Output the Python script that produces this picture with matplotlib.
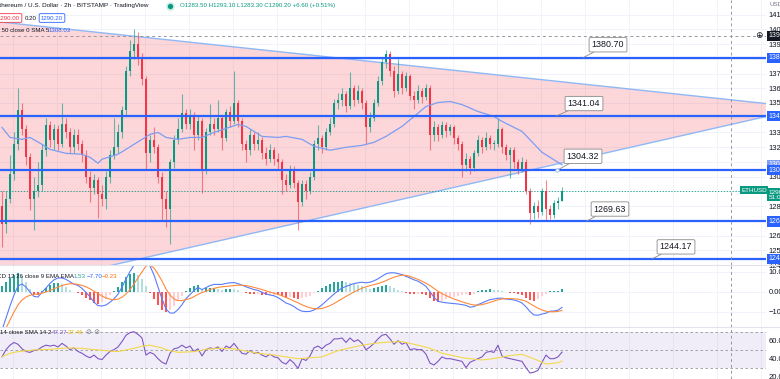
import numpy as np
import matplotlib.pyplot as plt
from matplotlib.patches import Polygon
from matplotlib.lines import Line2D

plt.rcParams['font.family'] = ['Liberation Sans', 'DejaVu Sans']
LEG_SIZE = 4.4

# ===============================
# DATA (ETHUSD 2h)
# ===============================
first_open = 1280.0
close = [1268, 1285, 1302, 1322, 1345, 1332, 1313, 1285, 1290, 1294,
         1318, 1335, 1325, 1332, 1322, 1336, 1330, 1320, 1328, 1322,
         1315, 1300, 1292, 1298, 1288, 1285, 1300, 1315, 1320, 1330,
         1345, 1372, 1385, 1390, 1380, 1366, 1316, 1325, 1320, 1300,
         1285, 1278, 1310, 1325, 1332, 1343, 1336, 1342, 1328, 1338,
         1305, 1330, 1336, 1332, 1340, 1326, 1344, 1338, 1350, 1338,
         1322, 1318, 1328, 1322, 1325, 1316, 1312, 1318, 1312, 1310,
         1298, 1294, 1305, 1296, 1283, 1295, 1290, 1300, 1322, 1326,
         1320, 1330, 1336, 1350, 1352, 1356, 1348, 1360, 1352, 1358,
         1350, 1334, 1340, 1350, 1365, 1378, 1383, 1372, 1358, 1370,
         1360, 1368, 1355, 1352, 1358, 1354, 1360, 1328, 1334, 1328,
         1335, 1331, 1334, 1326, 1322, 1308, 1312, 1306, 1316, 1325,
         1320, 1326, 1322, 1322, 1332, 1320, 1315, 1318, 1310, 1305,
         1310, 1290, 1275, 1280, 1276, 1290, 1278, 1274, 1282, 1283.5, 1290.2]
high = [1290, 1290, 1315, 1330, 1360, 1350, 1335, 1316, 1300, 1310,
        1322, 1340, 1338, 1336, 1335, 1350, 1340, 1333, 1332, 1332,
        1325, 1318, 1304, 1302, 1300, 1294, 1304, 1318, 1340, 1336,
        1348, 1375, 1393, 1400, 1398, 1384, 1368, 1328, 1334, 1322,
        1303, 1290, 1312, 1328, 1340, 1356, 1346, 1346, 1344, 1342,
        1340, 1333, 1349, 1340, 1352, 1342, 1346, 1348, 1372, 1352,
        1340, 1325, 1332, 1330, 1330, 1327, 1320, 1322, 1320, 1316,
        1312, 1302, 1308, 1307, 1298, 1298, 1298, 1303, 1325, 1335,
        1328, 1333, 1340, 1353, 1357, 1360, 1358, 1371, 1362, 1362,
        1360, 1352, 1344, 1353, 1368, 1381, 1386, 1385, 1375, 1380,
        1372, 1371, 1370, 1358, 1362, 1360, 1363, 1362, 1338, 1336,
        1338, 1337, 1336, 1335, 1328, 1324, 1316, 1314, 1318, 1328,
        1327, 1330, 1328, 1325, 1340, 1334, 1322, 1320, 1320, 1312,
        1313, 1312, 1292, 1283, 1284, 1292, 1298, 1281, 1284, 1286, 1293.1]
low = [1252, 1262, 1282, 1298, 1318, 1328, 1308, 1277, 1264, 1286,
       1290, 1314, 1320, 1318, 1318, 1320, 1326, 1316, 1316, 1318,
       1310, 1296, 1283, 1288, 1272, 1280, 1278, 1296, 1312, 1316,
       1326, 1342, 1368, 1380, 1376, 1362, 1305, 1310, 1316, 1296,
       1270, 1266, 1254, 1306, 1322, 1330, 1332, 1332, 1318, 1325,
       1289, 1302, 1328, 1328, 1330, 1318, 1324, 1334, 1336, 1334,
       1318, 1310, 1315, 1318, 1318, 1312, 1308, 1310, 1308, 1305,
       1288, 1290, 1292, 1292, 1264, 1280, 1285, 1288, 1298, 1318,
       1316, 1318, 1328, 1334, 1346, 1348, 1344, 1346, 1348, 1350,
       1346, 1322, 1330, 1338, 1348, 1362, 1374, 1368, 1354, 1356,
       1356, 1358, 1352, 1346, 1350, 1350, 1352, 1318, 1324, 1324,
       1326, 1327, 1328, 1322, 1318, 1300, 1304, 1302, 1304, 1314,
       1316, 1318, 1319, 1318, 1320, 1316, 1311, 1299, 1306, 1302,
       1303, 1288, 1268, 1271, 1272, 1274, 1270, 1271, 1272, 1278, 1283.3]

# MA 50 read at a few bars
sma50_bar = [0, 2, 5, 7, 10, 12, 16, 20, 22, 24, 25, 29, 31, 35, 37, 39, 41, 44, 47, 50,
             53, 56, 59, 61, 65, 69, 71, 75, 78, 82, 86, 90, 93, 96, 100, 103, 106, 109, 112, 115,
             119, 123, 125, 130, 135, 140]
sma50 = [1333.4, 1326.6, 1325.3, 1326.6, 1321.9, 1318.5, 1315.8, 1315.2, 1313.1, 1309.1,
         1311.8, 1315.2, 1318.5, 1325.3, 1328.7, 1330.0, 1326.6, 1325.3, 1326.6, 1326.6,
         1330.0, 1332.7, 1335.4, 1334.1, 1327.3, 1326.6, 1327.3, 1325.3, 1320.6, 1317.9,
         1319.9, 1321.2, 1323.3, 1327.3, 1334.1, 1340.8, 1347.6, 1350.3, 1351.0, 1348.9,
         1344.2, 1340.8, 1337.5, 1330.7, 1316.5, 1308.03]

levels = [1380.70, 1341.04, 1304.32, 1269.63, 1244.17]
level_labels = ["1380.70", "1341.04", "1304.32", "1269.63", "1244.17"]

# triangle drawing (bar, price)
tri_bar = [-0.5, 191]
tri_upper = [1405.0, 1349.6]
tri_lower = [1222.6, 1340.8]

macd_signal = [-22, -18, -14, -10, -6.5, -4, -2.5, -1.6, -1.2, -1.0,
               -0.6, 0, 0.8, 1.6, 2.5, 3.2, 3.8, 4.1, 4.1, 3.8,
               3.3, 2.6, 1.6, 0.4, -0.8, -2.0, -3.0, -3.6, -3.9, -3.6,
               -2.6, -1.0, 1.2, 4.0, 7.2, 10, 13, 13.5, 12, 9,
               5.5, 1.5, -1.5, -3.5, -4.3, -4.3, -3.8, -3.3, -2.3, -1.2,
               -0.3, 0.4, 1.2, 1.8, 2.3, 2.6, 2.8, 3.0, 3.2, 3.4,
               3.4, 3.2, 2.8, 2.3, 1.8, 1.2, 0.6, 0.0, -0.6, -1.2,
               -1.9, -2.7, -3.6, -4.5, -5.4, -6.4, -7.2, -7.9, -8.3, -8.4,
               -8.2, -7.6, -6.8, -5.8, -4.6, -3.4, -2.2, -1.1, 0.0, 1.0,
               1.9, 2.6, 3.2, 3.7, 4.2, 4.9, 5.7, 6.6, 7.4, 8.0,
               8.4, 8.3, 7.8, 7.1, 6.3, 5.4, 4.4, 3.2, 1.8, 0.4,
               -0.8, -1.8, -2.7, -3.5, -4.2, -4.9, -5.5, -6.1, -6.5, -6.6,
               -6.3, -5.8, -5.2, -4.5, -3.9, -3.5, -3.3, -3.3, -3.4, -3.6,
               -4.0, -4.6, -5.8, -7.0, -8.1, -9.0, -9.6, -9.9, -9.9, -9.7, -9.23]
macd_hist = [3, 5, 7, 8.5, 9.5, 8, 5, 1.5, -1, -1.5,
             0.5, 2, 3.5, 4.5, 4.5, 3.8, 2.5, 1, -0.2, -0.5,
             -1.5, -2.8, -4, -5.5, -6, -5, -3.5, -1.5, 0.5, 2.5,
             5, 7.5, 9, 9.5, 8.5, 6.5, 3, -0.5, -3.5, -6.5,
             -9, -10, -9, -7, -4.5, -2, 0.5, 2, 3, 3.5,
             1.5, 1.8, 2, 2, 1.5, 1.2, 1.5, 1.6, 1.5, 0.8,
             0, -0.6, -0.9, -1.1, -1, -1.3, -1.6, -1.5, -1.3, -1.6,
             -2.2, -2.8, -2.6, -2.8, -3.3, -3.2, -2.6, -1.8, -0.7, 0.5,
             1.8, 3, 4, 4.8, 5.2, 5.4, 5, 4.6, 4.2, 3.6,
             3, 2, 1.7, 1.9, 2.4, 3, 3.4, 3, 2.2, 1.2,
             0.3, -0.5, -0.8, -1, -0.9, -1.2, -1.6, -3, -4.5, -5,
             -4.3, -3.6, -2.9, -2.3, -1.8, -1.4, -1.2, -1.5, -0.8, 0.3,
             0.8, 1.2, 1.4, 1.0, 0.8, 0.4, -0.2, -0.4, -0.6, -1.0,
             -1.5, -2.8, -4, -4.5, -3.5, -2, -1, 0.3, 0.4, 0.6, 1.53]

rsi = [42, 50, 55, 58, 56, 51, 48, 47, 49, 50,
       53, 55, 54, 55, 53, 57, 54, 50, 52, 48,
       46, 43, 41, 44, 40, 39, 44, 48, 50, 53,
       59, 66, 69, 70, 67, 63, 44, 47, 45, 40,
       36, 34, 46, 51, 52, 55, 52, 54, 48, 51,
       43, 50, 52, 51, 53, 48, 54, 52, 57, 51,
       46, 45, 49, 46, 47, 44, 42, 45, 42, 41,
       36, 34, 39, 35, 29, 40, 38, 43, 52, 54,
       51, 55, 57, 62, 62, 63, 58, 63, 59, 61,
       57, 50, 53, 57, 62, 66, 67, 62, 56, 60,
       56, 58, 50, 51, 50, 50, 45, 35, 33, 37,
       42, 40, 40, 39, 38, 37, 30, 36, 38, 40,
       42, 47, 48, 47, 55, 43, 41, 40, 39, 38,
       37, 30, 24, 25, 27, 36, 44, 40, 40, 42, 47.27]
rsi_ma_bar = [0, 2, 4, 8, 12, 16, 20, 24, 29, 33, 35, 37, 40, 41, 44, 48, 51, 54, 58, 61,
              64, 68, 71, 74, 80, 84, 90, 94, 97, 100, 102, 104, 107, 110, 114, 116, 120, 122, 124, 127,
              130, 132, 134, 136, 139, 140]
rsi_ma = [42.2, 46.0, 47.8, 49.7, 50.4, 51.9, 51.5, 49.7, 47.8, 51.5,
          54.0, 55.0, 52.0, 50.0, 47.0, 47.8, 50.5, 51.5, 51.0, 48.5,
          46.0, 44.1, 42.0, 40.0, 42.0, 49.0, 55.0, 57.5, 58.5, 58.9,
          57.0, 55.0, 51.5, 46.0, 42.2, 40.4, 38.6, 39.5, 41.0, 43.5,
          44.8, 41.5, 38.0, 34.0, 35.5, 37.46]

price_ticks = [1240, 1250, 1260, 1280, 1300, 1320, 1330, 1350, 1360, 1370, 1390, 1400, 1410]

# ===============================
# FIGURE / PANES
# ===============================
W, H = 780, 379
fig = plt.figure(figsize=(W / 100, H / 100), dpi=100)


def fx(px):
    return px / W


def fy(py):
    return 1 - py / H


def legend(px, py, s, color='#131722', size=LEG_SIZE, **kw):
    fig.text(fx(px), fy(py), s, fontsize=size, color=color, va='center', **kw)


AX_R = 766 / W
ax = fig.add_axes([0, fy(265), AX_R, 265 / H])
ax_m = fig.add_axes([0, fy(327), AX_R, 62 / H])
ax_r = fig.add_axes([0, 0, AX_R, 52 / H])

n = len(close)
bars = np.arange(n)
c = np.array(close, float)
o = np.r_[first_open, c[:-1]]
up = c >= o
CROSS_X = 182.25

for a in (ax, ax_m, ax_r):
    a.set_xlim(-0.5, 191)
    a.set_xticks([])
    for s in a.spines.values():
        s.set_visible(False)
    a.yaxis.tick_right()
    a.tick_params(axis='y', length=0, pad=2, labelsize=5.5, colors='#131722')
    for gx in np.arange(2.75, 191, 11):
        a.axvline(gx, color='#f0f3fa', lw=0.7, zorder=0)
    a.axvline(CROSS_X, color='#9598a1', lw=0.7, ls=(0, (3, 3)), zorder=7)

# ---- main price pane ----
ax.set_ylim(1240.8, 1419.9)
ax.set_yticks(price_ticks)
for t in range(1240, 1420, 10):
    ax.axhline(t, color='#f0f3fa', lw=0.7, zorder=0)

ax.add_patch(Polygon([[tri_bar[0], tri_upper[0]], [tri_bar[1], tri_upper[1]],
                      [tri_bar[1], tri_lower[1]], [tri_bar[0], tri_lower[0]]],
                     closed=True, fc='#f23645', alpha=0.2, ec='none', zorder=1))
ax.plot(tri_bar, tri_upper, color='#8fb8f5', lw=1, zorder=2)
ax.plot(tri_bar, tri_lower, color='#8fb8f5', lw=1, zorder=2)

col = np.where(up, '#089981', '#f23645')
ax.vlines(bars, low, high, colors=col, lw=0.8, alpha=0.6, zorder=3)
ax.bar(bars, np.maximum(np.abs(c - o), 0.5), bottom=np.minimum(o, c), width=0.6,
       color=col, lw=0, zorder=3)

ax.plot(sma50_bar, sma50, color='#7c9df2', lw=0.9, zorder=3.5)

ax.axhline(1290.2, color='#089981', lw=0.6, ls=(0, (1.5, 2)), zorder=2.5)
ax.axhline(1395.6, color='#9598a1', lw=0.7, ls=(0, (3, 3)), zorder=7)

for lv in levels:
    ax.axhline(lv, color='#2962ff', lw=1.6, zorder=4)

# callouts (box position, pointer bar)
callout_box = [(151.5, 1389.5), (145.5, 1349.6), (145.25, 1313.8), (152.0, 1278.0), (168.5, 1252.3)]
callout_tip = [145.25, 138.5, 138.75, 146.0, 162.5]
for lab, lv, (bx, by), tx in zip(level_labels, levels, callout_box, callout_tip):
    ax.annotate(lab, xy=(tx, lv), xytext=(bx, by), fontsize=6.4, color='#131722',
                ha='center', va='center', zorder=8,
                bbox=dict(boxstyle='round,pad=0.3,rounding_size=0.15', fc='white', ec='#8a8a8a', lw=0.6),
                arrowprops=dict(arrowstyle='-', color='#8a8a8a', lw=0.6, shrinkA=0, shrinkB=0))
ax.plot(138.75, 1304.32, 'o', ms=2.5, mfc='white', mec='#8fb8f5', mew=0.6, zorder=8)

# price-axis boxes
ytr = ax.get_yaxis_transform()
ax.text(1.003, 1308.03, '1308.03', transform=ytr, fontsize=5, color='white', va='center',
        ha='left', clip_on=False, bbox=dict(boxstyle='square,pad=0.25', fc='#7c9df2', ec='none'))
for lv, lab in zip(levels, level_labels):
    ax.text(1.003, lv, lab, transform=ytr, fontsize=5, color='white', va='center', ha='left',
            clip_on=False, bbox=dict(boxstyle='square,pad=0.25', fc='#2962ff', ec='none'))
ax.text(1.003, 1395.6, '1395.60', transform=ytr, fontsize=5, color='white', va='center',
        ha='left', clip_on=False, bbox=dict(boxstyle='square,pad=0.25', fc='#131722', ec='none'))
ax.text(1.003, 1287.8, '1290.20\n51:06', transform=ytr, fontsize=4.6, color='white', va='center',
        ha='left', clip_on=False, linespacing=1.0,
        bbox=dict(boxstyle='square,pad=0.2', fc='#089981', ec='none'))
fig.text(fx(754), fy(190), 'ETHUSD', fontsize=4.5, color='white', ha='center', va='center',
         bbox=dict(boxstyle='square,pad=0.25', fc='#089981', ec='none'))
fig.text(fx(759), fy(35), '⊕', fontsize=6.5, color='#131722', ha='center', va='center',
         family='DejaVu Sans')
fig.text(fx(769), fy(4), 'USD', fontsize=4.5, color='#787b86', ha='left', va='center')

# ---- MACD pane ----
sig = np.array(macd_signal, float)
hist = np.array(macd_hist, float)
macd = sig + hist
prev = np.r_[hist[0], hist[:-1]]
hcol = np.where(hist >= 0, np.where(hist >= prev, '#26a69a', '#b2dfdb'),
                np.where(hist < prev, '#ff5252', '#ffcdd2'))
ax_m.set_ylim(-17.5, 13.5)
for t in (-10, 0, 10):
    ax_m.axhline(t, color='#f0f3fa', lw=0.7, zorder=0)
ax_m.bar(bars, hist, width=0.6, color=hcol, lw=0, zorder=2)
ax_m.plot(bars, macd, color='#5b7cfa', lw=0.8, zorder=3)
ax_m.plot(bars, sig, color='#ff8a3d', lw=0.8, zorder=3)
ax_m.set_yticks([-10, 0, 10])
ax_m.set_yticklabels(['−10.00', '0.00', '10.00'])

# ---- RSI pane ----
ax_r.set_ylim(17.4, 75.2)
ax_r.axhspan(30, 70, color='#7e57c2', alpha=0.1, lw=0, zorder=0)
for lv in (70, 50, 30):
    ax_r.axhline(lv, color='#9598a1', lw=0.6, ls=(0, (3, 3)), zorder=1)
ax_r.plot(bars, rsi, color='#7e57c2', lw=0.8, zorder=3)
ax_r.plot(rsi_ma_bar, rsi_ma, color='#f3d84b', lw=0.8, zorder=3)
ax_r.set_yticks([20, 40, 60])
ax_r.set_yticklabels(['20.00', '40.00', '60.00'])

# pane separators
for py in (265, 327):
    fig.add_artist(Line2D([0, 1], [fy(py), fy(py)], color='#e0e3eb', lw=0.8))

# ---- legends ----
legend(-5, 6, 'Ethereum / U.S. Dollar · 2h · BITSTAMP · TradingView', size=4.6)
fig.add_artist(Line2D([fx(170)], [fy(6)], marker='o', ms=5, mfc='#089981', mec='#c6ede6', mew=1.2, ls='none'))
legend(180, 6, 'O1283.50 H1293.10 L1283.30 C1290.20 +6.60 (+0.51%)', color='#089981')
legend(-2, 18, '1290.00', color='#f23645',
       bbox=dict(boxstyle='round,pad=0.3,rounding_size=0.2', fc='white', ec='#f23645', lw=0.6))
legend(25, 18, '0.20')
legend(41, 18, '1290.20', color='#2962ff',
       bbox=dict(boxstyle='round,pad=0.3,rounding_size=0.2', fc='white', ec='#2962ff', lw=0.6))
legend(-9, 31, 'MA 50 close 0 SMA 5')
legend(49, 31, '1308.03', color='#2962ff')

legend(-12, 276, 'MACD 12 26 close 9 EMA EMA')
legend(74, 276, '1.53', color='#26a69a')
legend(87, 276, '−7.70', color='#2962ff')
legend(102, 276, '−9.23', color='#ff6d00')

legend(-12, 332, 'RSI 14 close SMA 14 2')
legend(52, 332, '47.27', color='#7e57c2')
legend(68, 332, '37.46', color='#e0b800')
fig.text(fx(86), fy(332), '⊘ ⊘', fontsize=5, color='#787b86', va='center', family='DejaVu Sans')

fig.savefig('out.png', dpi=100)
